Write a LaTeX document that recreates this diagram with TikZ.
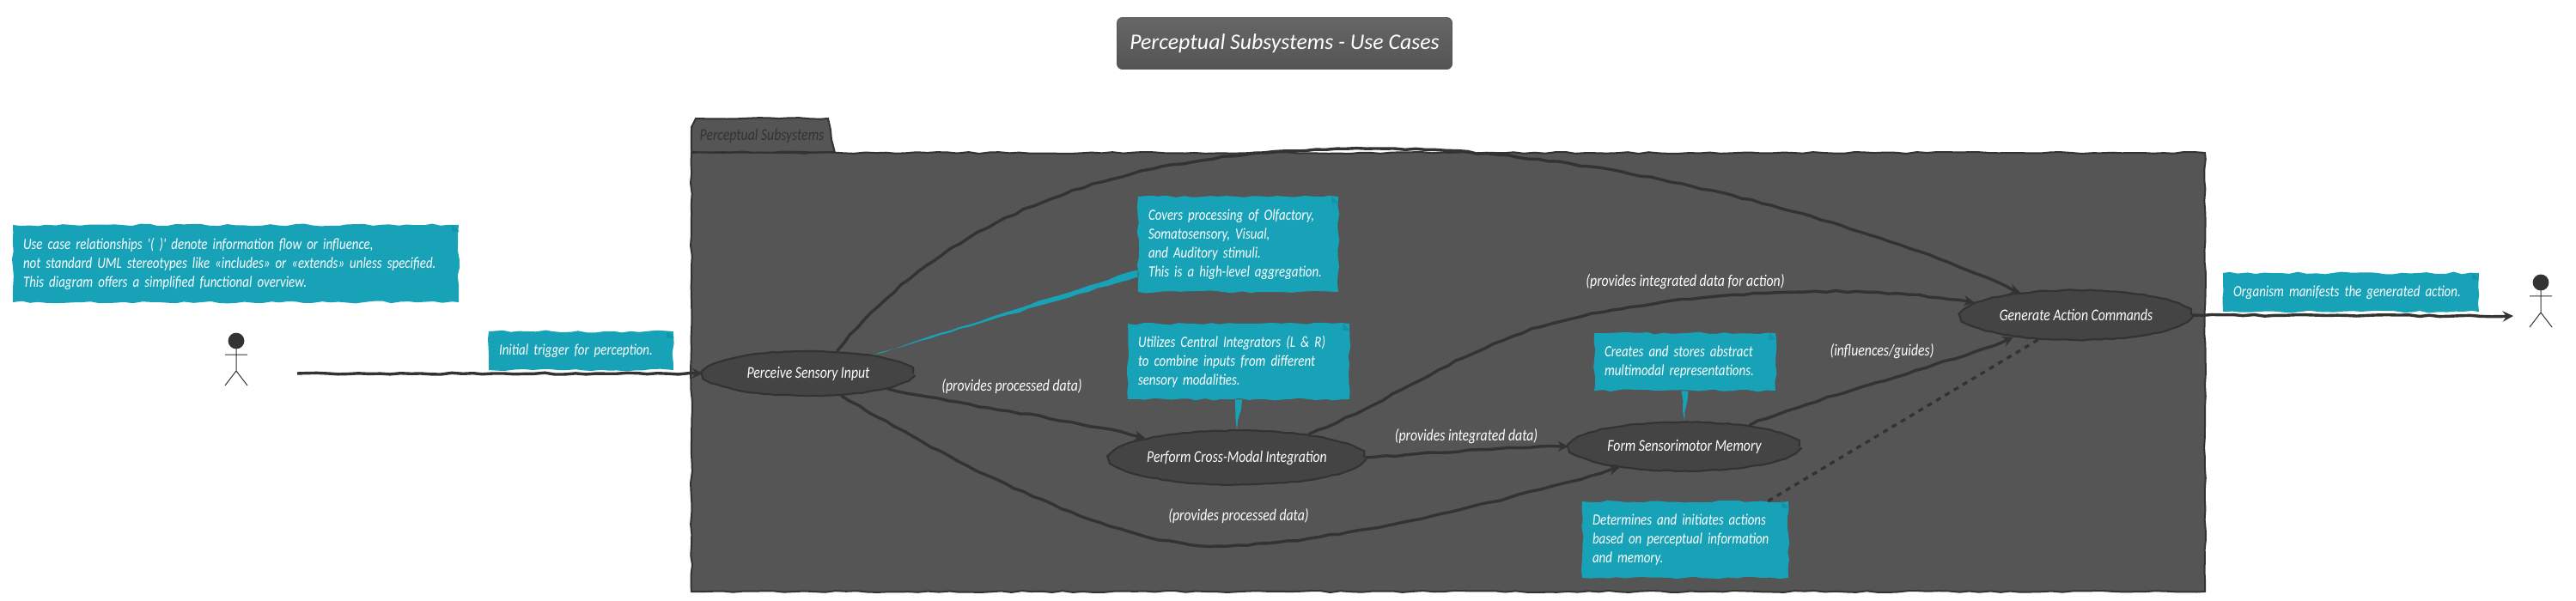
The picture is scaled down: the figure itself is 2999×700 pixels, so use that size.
\documentclass[tikz,border=0pt]{standalone}
\usepackage{fontspec}
\usetikzlibrary{shapes.geometric,decorations.pathmorphing}
\newfontfamily\handfont{Carlito}[FakeStretch=.82]
\newfontfamily\titlefont{Carlito}
\definecolor{pkgfill}{HTML}{555555}
\definecolor{ucfill}{HTML}{444444}
\definecolor{inkline}{HTML}{333333}
\definecolor{notefill}{HTML}{17A2B8}
\definecolor{notefold}{HTML}{1593A7}
\tikzset{
	x=.5pt,y=-.5pt,
	rough/.style={decorate,decoration={random steps,segment length=6pt,amplitude=.5pt}},
	wavy/.style={decorate,decoration={random steps,segment length=5pt,amplitude=.7pt}},
	oval/.style={decorate,decoration={random steps,segment length=3.5pt,amplitude=.3pt}},
	usecase/.style={ellipse,draw=inkline,fill=ucfill,line width=1.1pt,inner sep=0pt,text=white,oval,
		font=\handfont\itshape\fontsize{9.6}{10}\selectfont},
	notebox/.style={rectangle,fill=notefill,text=white,align=left,inner xsep=6pt,inner ysep=0pt,wavy,
		font=\handfont\itshape\fontsize{9.1}{11}\selectfont},
	edgelabel/.style={text=white,inner sep=0pt,font=\handfont\itshape\fontsize{9.6}{10}\selectfont},
	flow/.style={draw=inkline,line width=1.7pt,-stealth,rough},
	notetail/.style={fill=notefill,rough},
	stickman/.pic={
		\fill[inkline] (0,0) circle (4.7pt);
		\draw[inkline,line width=.5pt] (-13,16) -- (13,16) (0,9) -- (0,35) -- (-13,52) (0,35) -- (13,52);
	},
}
\newcommand{\foldcorner}[1]{\fill[notefold] ([xshift=-4pt]#1.north east) -- ([yshift=-4pt]#1.north east) -- ([xshift=-4pt,yshift=-4pt]#1.north east) -- cycle;}
\begin{document}
\begin{tikzpicture}
	\pgfmathsetseed{11}
	\useasboundingbox (0,0) rectangle (2999,700);
	% title
	\node[rectangle,rounded corners=3pt,draw=pkgfill,top color=black!60,bottom color=black!67,text=white,
		minimum width=195pt,minimum height=30pt,inner sep=0pt,font=\titlefont\itshape\fontsize{12.9}{15}\selectfont]
		(title) at (1495.5,50.5) {Perceptual Subsystems - Use Cases};
	% package
	\draw[draw=inkline,fill=pkgfill,line width=1pt,rough] (805,178) -- (805,148) -- (810,138) -- (964,138) -- (972,178) -- cycle;
	\node[rectangle,draw=inkline,fill=pkgfill,line width=1pt,rough,minimum width=881pt,minimum height=255.5pt,inner sep=0pt]
		(pkg) at (1686,433.5) {};
	\draw[inkline,line width=1pt,rough] (pkg.north west) -- ++(167,0);
	\node[text=inkline,inner sep=0pt,font=\handfont\itshape\fontsize{9.6}{10}\selectfont] (pkgname) at (887,158) {Perceptual Subsystems};
	% use cases
	\node[usecase,minimum width=122pt,minimum height=26pt] (perceive) at (941,435) {Perceive Sensory Input};
	\node[usecase,minimum width=146.5pt,minimum height=31.5pt] (perform) at (1440,533) {Perform Cross-Modal Integration};
	\node[usecase,minimum width=134pt,minimum height=28.5pt] (form) at (1961,520) {Form Sensorimotor Memory};
	\node[usecase,minimum width=134pt,minimum height=29pt] (generate) at (2417,367) {Generate Action Commands};
	% actors
	\pic at (275,397) {stickman};
	\pic at (2958,329) {stickman};
	\coordinate (trigger) at (346,435);
	\coordinate (outcome) at (2926,368);
	\coordinate (topbend) at (1600,173);
	\coordinate (lowbend) at (1416,636);
	\coordinate (midbend) at (1887,360);
	% notes
	\node[notebox,text width=247.5pt,minimum height=45pt] (overview) at (274.5,307) {Use case relationships '( )' denote information flow or influence,\\not standard UML stereotypes like «includes» or «extends» unless specified.\\This diagram offers a simplified functional overview.};
	\node[notebox,text width=95.5pt,minimum height=22.5pt] (triggernote) at (676.5,408.5) {Initial trigger for perception.};
	\node[notebox,text width=104.5pt,minimum height=55.5pt] (coversnote) at (1441.5,284.5) {Covers processing of Olfactory,\\Somatosensory, Visual,\\and Auditory stimuli.\\This is a high-level aggregation.};
	\node[notebox,text width=117pt,minimum height=44pt] (integnote) at (1442,421) {Utilizes Central Integrators (L \& R)\\to combine inputs from different\\sensory modalities.};
	\node[notebox,text width=93.5pt,minimum height=33.5pt] (memnote) at (1961.5,421.5) {Creates and stores abstract\\multimodal representations.};
	\node[notebox,text width=108pt,minimum height=44.5pt] (actnote) at (1962,628.5) {Determines and initiates actions\\based on perceptual information\\and memory.};
	\node[notebox,text width=137pt,minimum height=22.5pt] (outnote) at (2737,340.5) {Organism manifests the generated action.};
	\foldcorner{overview}
	\foldcorner{triggernote}
	\foldcorner{coversnote}
	\foldcorner{integnote}
	\foldcorner{memnote}
	\foldcorner{actnote}
	\foldcorner{outnote}
	% note tails
	\fill[notetail] ([yshift=-15pt]coversnote.west) -- ([yshift=-19pt]coversnote.west) -- (perceive.16) -- cycle;
	\fill[notetail] ([xshift=-2pt]integnote.south) -- ([xshift=2pt]integnote.south) -- (perform.north) -- cycle;
	\fill[notetail] ([xshift=-2pt]memnote.south) -- ([xshift=2pt]memnote.south) -- (form.north) -- cycle;
	% connectors
	\draw[flow] (trigger) -- (perceive.west);
	\draw[flow] (perceive.38) .. controls +(160,-197) and +(-220,0) .. (topbend) .. controls +(250,0) and +(-207,-93) .. (generate.158);
	\draw[flow] (perceive.-11) .. controls +(90,20) and +(-100,-25) .. (perform.168);
	\draw[flow] (perceive.-34) .. controls +(100,60) and +(-130,0) .. (lowbend) .. controls +(114,0) and +(-160,47) .. (form.198);
	\draw[flow] (perform.east) .. controls +(80,-5) and +(-80,0) .. (form.west);
	\draw[flow] (perform.18) .. controls +(117,-46) and +(-157,20) .. (midbend) .. controls +(103,-20) and +(-131,-23) .. (generate.173);
	\draw[flow] (form.18) .. controls +(50,-25) and +(-50,25) .. (generate.199);
	\draw[flow] (generate.east) -- (outcome);
	\draw[draw=inkline,line width=1.7pt,dashed] ([xshift=-12pt]actnote.north east) -- (generate.213);
	% edge labels
	\node[edgelabel] (lblprocessed) at (1178,450) {(provides processed data)};
	\node[edgelabel] (lbllower) at (1442,601) {(provides processed data)};
	\node[edgelabel] (lblintegrated) at (1707,508) {(provides integrated data)};
	\node[edgelabel] (lblaction) at (1962,328) {(provides integrated data for action)};
	\node[edgelabel] (lblguides) at (2191,409) {(influences/guides)};
\end{tikzpicture}
\end{document}
